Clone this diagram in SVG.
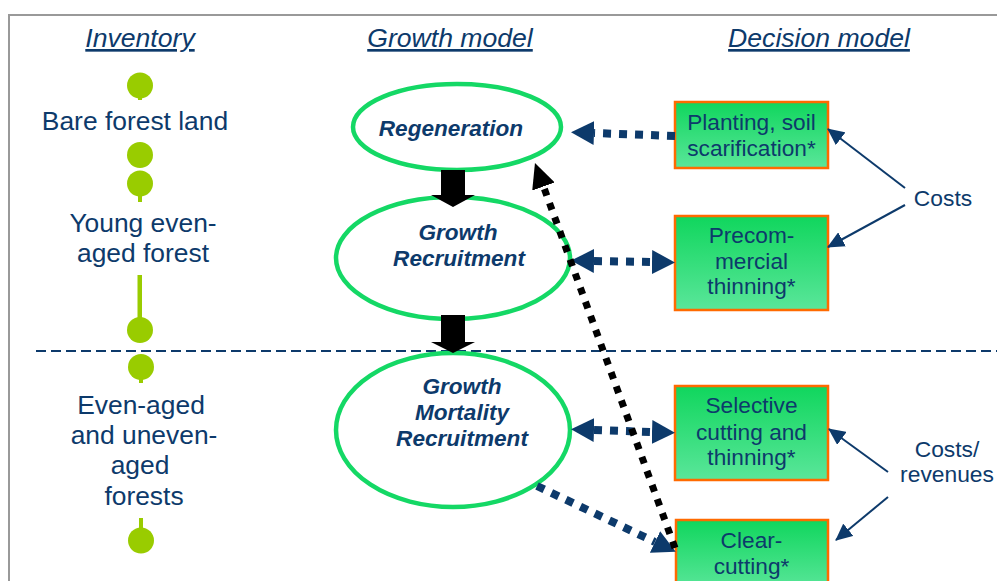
<svg xmlns="http://www.w3.org/2000/svg" width="997" height="581" viewBox="0 0 997 581">
<style>
.hdr{font-family:"Liberation Sans",Arial,sans-serif;font-size:26.6px;font-style:italic;fill:#0d3a6b;text-anchor:middle;text-decoration:underline}
.inv{font-family:"Liberation Sans",Arial,sans-serif;font-size:26.4px;fill:#0d3a6b;text-anchor:middle}
.ell{fill:#fff;stroke:#14d865;stroke-width:4.5}
.et{font-family:"Liberation Sans",Arial,sans-serif;font-size:22.6px;font-weight:bold;font-style:italic;fill:#0d3a6b;text-anchor:middle}
.box{fill:url(#bg);stroke:#ff6a00;stroke-width:2.5}
.bt{font-family:"Liberation Sans",Arial,sans-serif;font-size:22.7px;fill:#0d3a6b;text-anchor:middle}
.lab{font-family:"Liberation Sans",Arial,sans-serif;font-size:22.8px;fill:#0d3a6b;text-anchor:middle}
.dot{fill:none;stroke:#0d3a6b;stroke-width:8;stroke-dasharray:8 8}
.bdot{fill:none;stroke:#000;stroke-width:7;stroke-dasharray:7 8}
.thin{fill:none;stroke:#0d3a6b;stroke-width:2}
.bul{fill:#99cc00}
</style>
<defs>
<linearGradient id="bg" x1="0" y1="0" x2="0" y2="1">
<stop offset="0" stop-color="#10d65d"/>
<stop offset="1" stop-color="#5ae69a"/>
</linearGradient>
<marker id="nh" markerUnits="userSpaceOnUse" markerWidth="24" markerHeight="24" refX="0" refY="12" orient="auto-start-reverse" viewBox="0 0 24 24">
<path d="M0,0 L23,12 L0,24 z" fill="#0d3a6b"/>
</marker>
<marker id="bh" markerUnits="userSpaceOnUse" markerWidth="26" markerHeight="24" refX="0" refY="12" orient="auto" viewBox="0 0 26 24">
<path d="M0,0 L25,12 L0,24 z" fill="#000"/>
</marker>
<marker id="th" markerUnits="userSpaceOnUse" markerWidth="18" markerHeight="16" refX="16" refY="8" orient="auto" viewBox="0 0 18 16">
<path d="M0,0 L17,8 L0,16 z" fill="#0d3a6b"/>
</marker>
</defs>
<rect width="997" height="581" fill="#fff"/>
<path d="M9,581 V15 H997" fill="none" stroke="#999" stroke-width="2"/>

<g id="headers">
<text class="hdr" x="140" y="47">Inventory</text>
<text class="hdr" x="450" y="47">Growth model</text>
<text class="hdr" x="819" y="47">Decision model</text>
</g>

<line x1="36" y1="351" x2="997" y2="351" stroke="#0d3a6b" stroke-width="2" stroke-dasharray="10 5"/>

<g id="inventory">
<circle class="bul" cx="140" cy="85.5" r="13"/>
<rect class="bul" x="138" y="95" width="4" height="5"/>
<text class="inv" x="135" y="130">Bare forest land</text>
<circle class="bul" cx="140" cy="155" r="13"/>
<rect x="120" y="138" width="40" height="4" fill="#fff"/>
<circle class="bul" cx="140" cy="183.5" r="13"/>
<rect class="bul" x="138" y="193" width="4" height="9"/>
<text class="inv" x="143" y="232">Young even-</text>
<text class="inv" x="143" y="262">aged forest</text>
<rect class="bul" x="137.5" y="275" width="4.5" height="50"/>
<circle class="bul" cx="140" cy="330" r="13"/>
<circle class="bul" cx="141" cy="367" r="13"/>
<rect class="bul" x="139" y="375" width="4" height="8"/>
<text class="inv" x="141" y="414">Even-aged</text>
<text class="inv" x="144" y="444">and uneven-</text>
<text class="inv" x="140" y="474">aged</text>
<text class="inv" x="144" y="505">forests</text>
<rect class="bul" x="139" y="518" width="4" height="12"/>
<circle class="bul" cx="141" cy="540.5" r="13"/>
</g>

<g id="regeneration">
<ellipse class="ell" cx="457" cy="127" rx="104" ry="43"/>
<text class="et" x="451" y="136">Regeneration</text>
</g>
<g id="growth-recruitment">
<ellipse class="ell" cx="453" cy="258" rx="117" ry="61"/>
<text class="et" x="458" y="240">Growth</text>
<text class="et" x="459" y="266">Recruitment</text>
</g>
<g id="growth-mortality-recruitment">
<ellipse class="ell" cx="453" cy="430" rx="117" ry="77"/>
<text class="et" x="462" y="394">Growth</text>
<text class="et" x="462" y="420">Mortality</text>
<text class="et" x="462" y="446">Recruitment</text>
</g>

<g id="planting">
<rect class="box" x="675" y="102" width="153" height="66"/>
<text class="bt" x="751.5" y="130">Planting, soil</text>
<text class="bt" x="751.5" y="156">scarification*</text>
</g>
<g id="precommercial">
<rect class="box" x="675" y="216" width="153" height="94"/>
<text class="bt" x="751.5" y="243">Precom-</text>
<text class="bt" x="751.5" y="269">mercial</text>
<text class="bt" x="751.5" y="294">thinning*</text>
</g>
<g id="selective">
<rect class="box" x="675" y="386" width="153" height="94"/>
<text class="bt" x="751.5" y="413">Selective</text>
<text class="bt" x="751.5" y="440">cutting and</text>
<text class="bt" x="751.5" y="465">thinning*</text>
</g>
<g id="clearcutting">
<rect class="box" x="676" y="520" width="152" height="70"/>
<text class="bt" x="751.5" y="548">Clear-</text>
<text class="bt" x="751.5" y="574">cutting*</text>
</g>

<g id="costs">
<text class="lab" x="943" y="206">Costs</text>
</g>
<g id="costs-revenues">
<text class="lab" x="947" y="457">Costs/</text>
<text class="lab" x="947" y="482">revenues</text>
</g>

<g id="connectors">
<path d="M441,170 H465 V195 H475 L453,207 L431,195 H441 Z" fill="#000"/>
<path d="M441,315 H465 V342 H475 L453,353 L431,342 H441 Z" fill="#000"/>
<line class="dot" x1="675" y1="136" x2="594" y2="133" marker-end="url(#nh)"/>
<line class="dot" x1="594" y1="261" x2="652" y2="262" marker-start="url(#nh)" marker-end="url(#nh)"/>
<line class="dot" x1="594" y1="430" x2="652" y2="432" marker-start="url(#nh)" marker-end="url(#nh)"/>
<line class="dot" x1="537" y1="486" x2="655" y2="542" marker-end="url(#nh)"/>
<line class="bdot" x1="675" y1="548" x2="543.5" y2="186.5" marker-end="url(#bh)"/>
<line class="thin" x1="905" y1="188" x2="828" y2="129" marker-end="url(#th)"/>
<line class="thin" x1="905" y1="205" x2="828" y2="247" marker-end="url(#th)"/>
<line class="thin" x1="888" y1="472" x2="829" y2="429" marker-end="url(#th)"/>
<line class="thin" x1="888" y1="497" x2="836" y2="540" marker-end="url(#th)"/>
</g>
</svg>
